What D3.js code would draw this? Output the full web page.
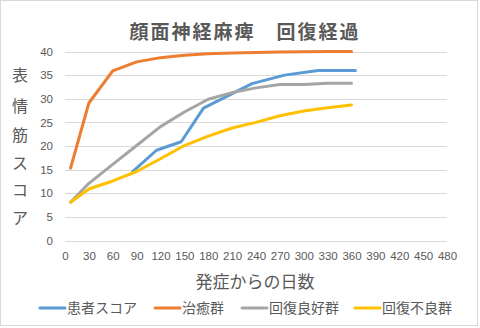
<!DOCTYPE html>
<html><head><meta charset="utf-8">
<script src="https://cdn.jsdelivr.net/npm/d3@7"></script>
<style>
html,body{margin:0;padding:0;background:#fff;}
svg{display:block;}
</style>
</head><body>
<svg id="c" width="480" height="328"></svg>
<script>
const title = "顔面神経麻痺\u3000回復経過";
const yTitle = ["表","情","筋","ス","コ","ア"];
const xTitle = "発症からの日数";
const seriesNames = ["患者スコア","治癒群","回復良好群","回復不良群"];
const seriesColors = ["#5B9BD5","#ED7D31","#A5A5A5","#FFC000"];
const groupDays = [7,30,60,90,120,150,180,210,240,270,300,330,360];
const cureGroup = [15.3,29.1,35.9,37.8,38.7,39.2,39.5,39.7,39.8,39.9,39.95,40,40];
const goodGroup = [8.1,12.1,16.1,20.1,24.1,27.2,29.9,31.3,32.3,33,33,33.3,33.3];
const poorGroup = [8.1,10.9,12.6,14.6,17.3,20.1,22.1,23.8,25,26.4,27.4,28.1,28.7];
const patientDays = [85,115,146,174,235,276,318,365];
const patientScore = [14.6,19.1,20.9,28,33.2,35,36,36];
const xTicks = d3.range(0,481,30);
const yTicks = d3.range(0,41,5);

const svg = d3.select("#c");
const font = "'Noto Sans CJK JP','Noto Sans',sans-serif";
const numFont = "'Liberation Sans',Arial,sans-serif";
const grey = "#595959";

svg.append("rect").attr("x",0.5).attr("y",0.5).attr("width",477).attr("height",325)
  .attr("fill","#fff").attr("stroke","#d9d9d9");

const x = d3.scaleLinear().domain([0,480]).range([65,447]);
const y = d3.scaleLinear().domain([0,40]).range([240.5,51.5]);

// gridlines
svg.append("g").selectAll("line").data(yTicks).join("line")
  .attr("x1",x(0)).attr("x2",x(480))
  .attr("y1",d=>Math.round(y(d))+0.5).attr("y2",d=>Math.round(y(d))+0.5)
  .attr("stroke","#d9d9d9").attr("stroke-width",1);

// y axis labels
const yAxis = d3.axisLeft(y).tickValues(yTicks).tickSize(0).tickPadding(0);
const gy = svg.append("g").attr("transform","translate(53,0)").call(yAxis);
gy.select(".domain").remove();
gy.selectAll("text").attr("font-family",numFont).attr("font-size",11.5).attr("fill",grey);

// x axis labels
const xAxis = d3.axisBottom(x).tickValues(xTicks).tickSize(0).tickPadding(0);
const gx = svg.append("g").attr("transform","translate(0,252)").call(xAxis);
gx.select(".domain").remove();
gx.selectAll("text").attr("font-family",numFont).attr("font-size",11.5).attr("fill",grey);

// lines
const line = d3.line().x(d=>x(d[0])).y(d=>y(d[1]));
const series = [
  d3.zip(patientDays, patientScore),
  d3.zip(groupDays, cureGroup),
  d3.zip(groupDays, goodGroup),
  d3.zip(groupDays, poorGroup)
];
svg.append("g").selectAll("path").data(series).join("path")
  .attr("d",line).attr("fill","none")
  .attr("stroke",(d,i)=>seriesColors[i]).attr("stroke-width",3)
  .attr("stroke-linejoin","round").attr("stroke-linecap","round");

// title
svg.append("text").attr("x",245).attr("y",39).attr("text-anchor","middle")
  .attr("font-family",font).attr("font-size",19).attr("font-weight","bold")
  .attr("letter-spacing",2).attr("fill",grey).text(title);

// y title stacked
const yPos = [75,106,135,163,190,218];
svg.append("g").selectAll("text").data(yTitle).join("text")
  .attr("x",20).attr("y",(d,i)=>yPos[i]).attr("dy","0.35em").attr("text-anchor","middle")
  .attr("font-family",font).attr("font-size",16).attr("fill",grey).text(d=>d);

// x title
svg.append("text").attr("x",255).attr("y",288).attr("text-anchor","middle")
  .attr("font-family",font).attr("font-size",17).attr("fill",grey).text(xTitle);

// legend
const legX = [40,155,242,355];
const lg = svg.append("g").selectAll("g").data(seriesNames).join("g")
  .attr("transform",(d,i)=>`translate(${legX[i]},308)`);
lg.append("line").attr("x1",0).attr("x2",25).attr("y1",0).attr("y2",0)
  .attr("stroke",(d,i)=>seriesColors[i]).attr("stroke-width",3).attr("stroke-linecap","round");
lg.append("text").attr("x",27).attr("y",0).attr("dy","0.36em")
  .attr("font-family",font).attr("font-size",14).attr("fill",grey).text(d=>d);
</script>
</body></html>
